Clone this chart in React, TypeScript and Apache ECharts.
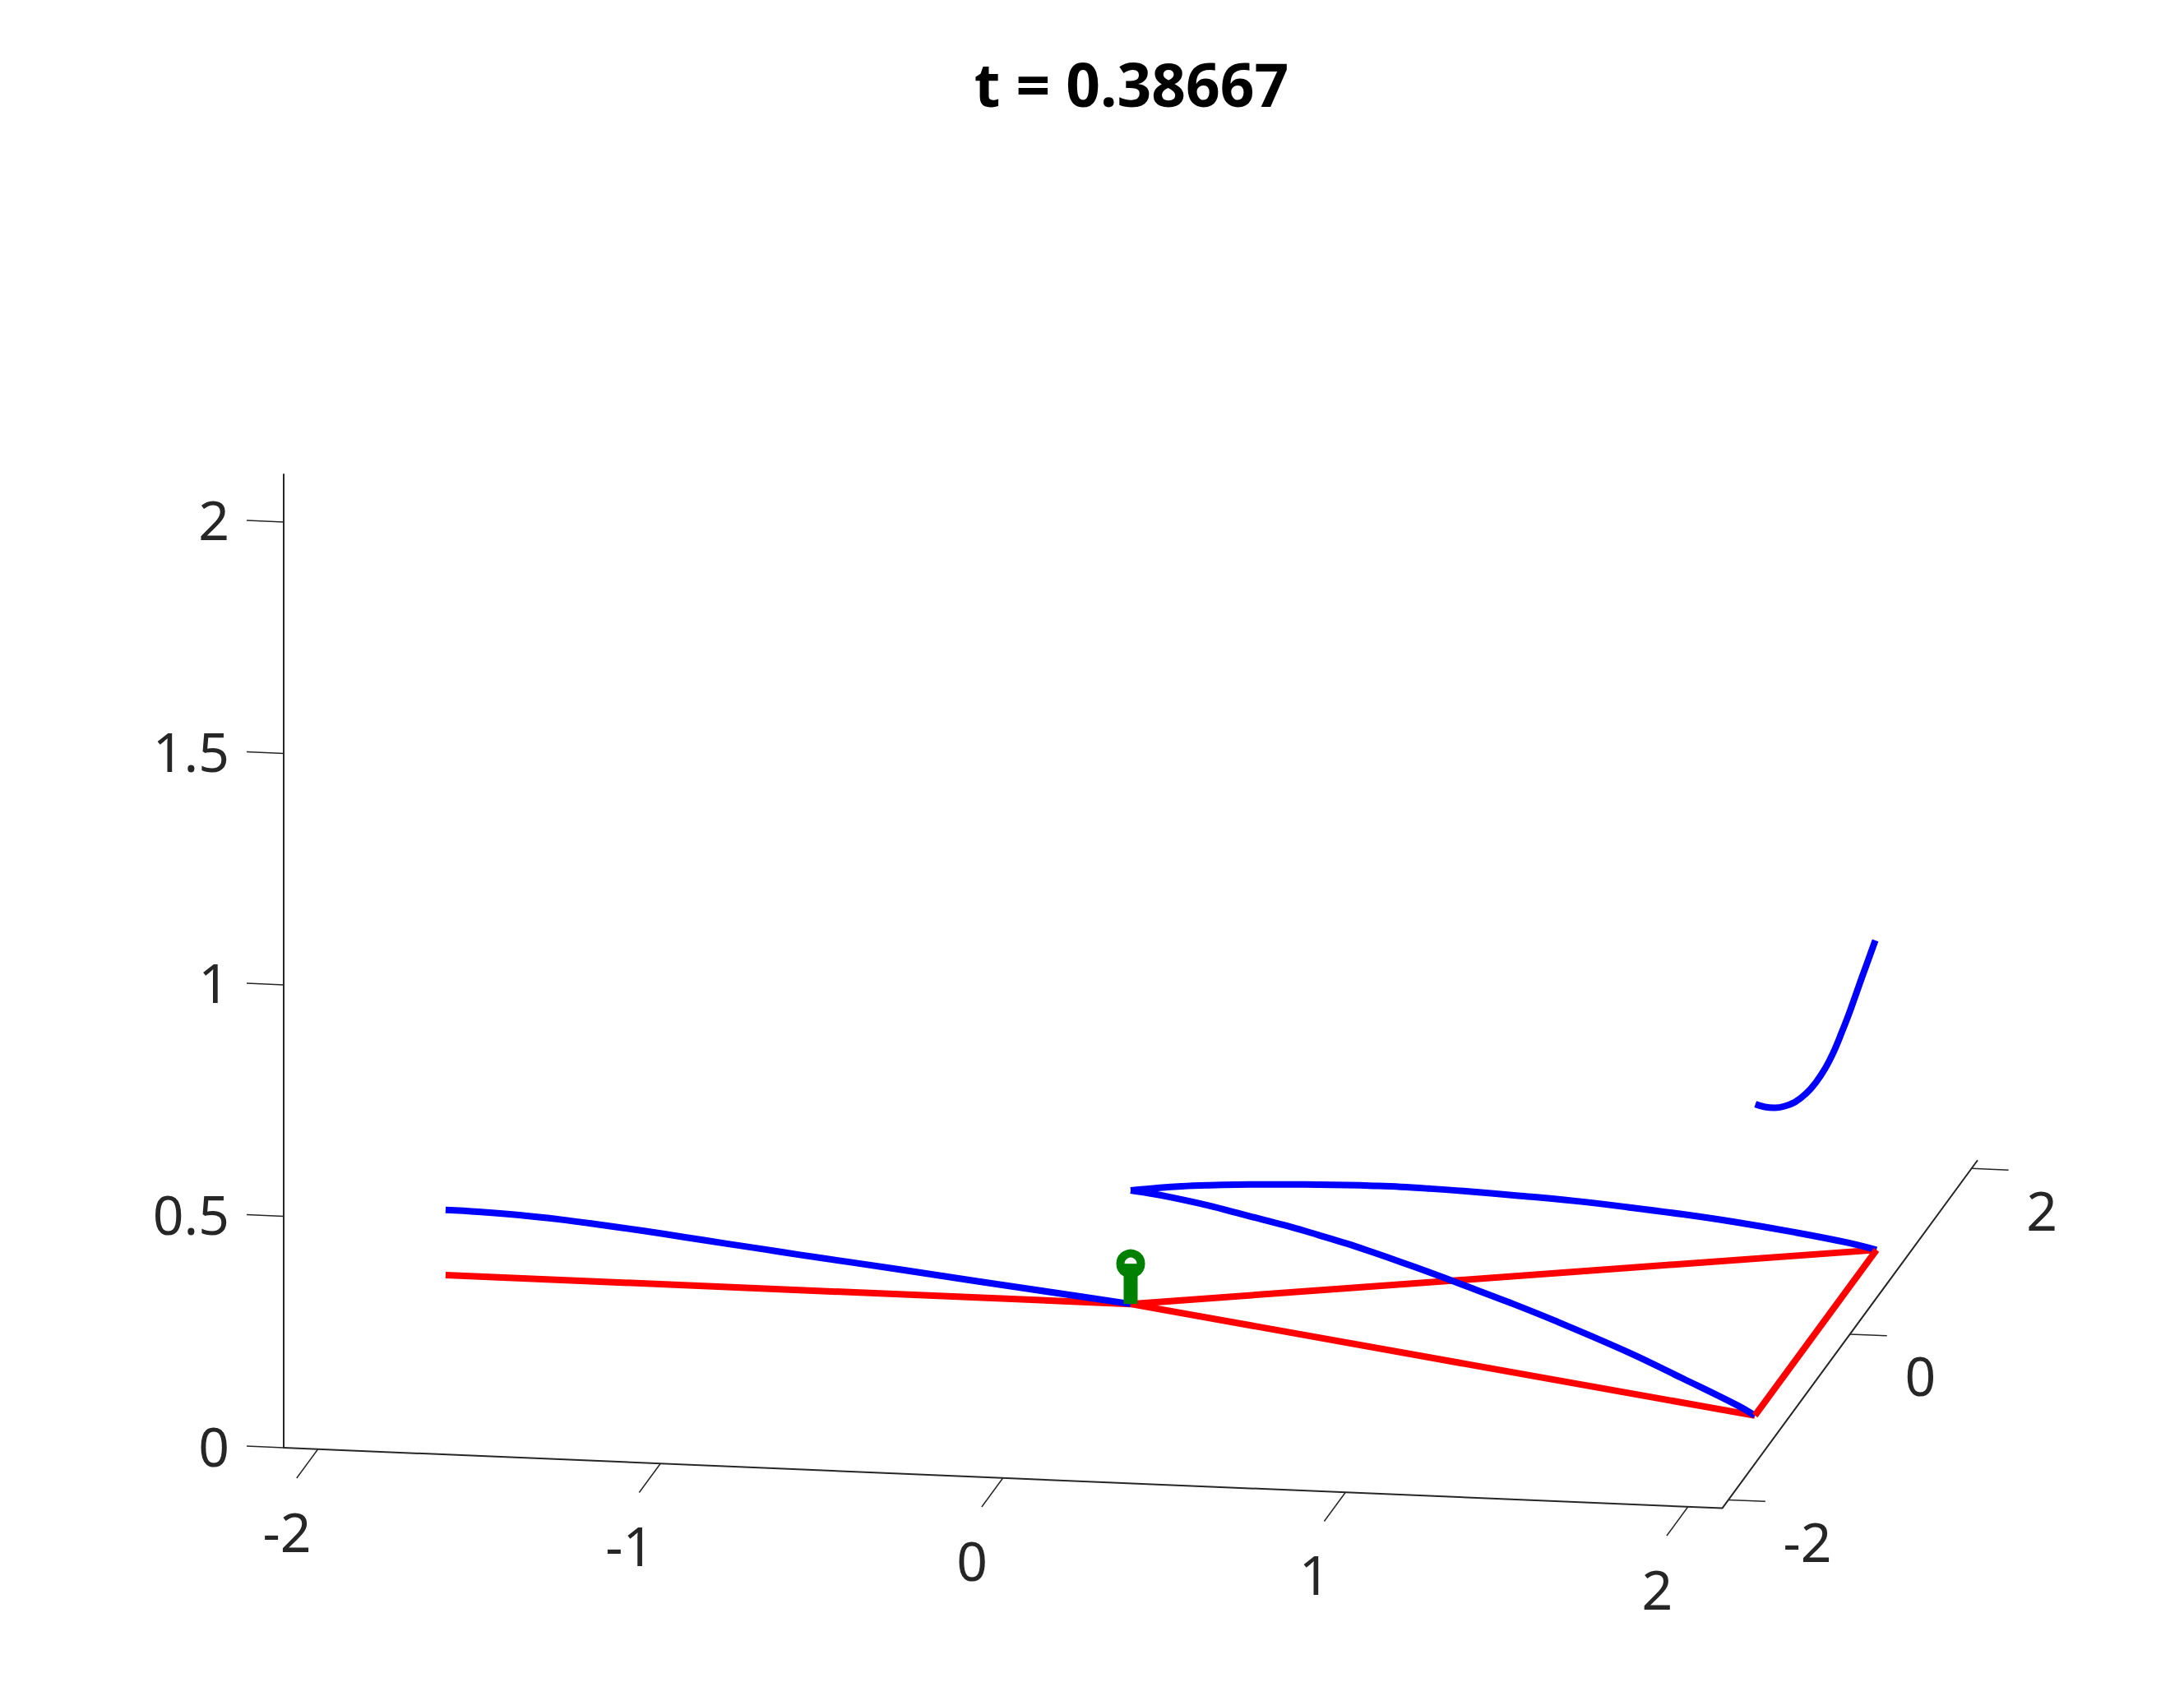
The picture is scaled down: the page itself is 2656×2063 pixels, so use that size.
import React, { useEffect, useRef } from "react";
import * as echarts from "echarts";

const titleText = "t = 0.38667";
const axisLimit = 2.1;
const xTicks = [-2, -1, 0, 1, 2];
const yTicks = [-2, 0, 2];
const zTicks = [0, 0.5, 1, 1.5, 2];

type P3 = [number, number, number];

const redEdges: P3[][] = [
  [[-2, 0, 0], [0, 0, 0]],
  [[0, 0, 0], [2, -1, 0]],
  [[0, 0, 0], [2, 1, 0]],
];
const redTip: P3[] = [[2, -1, 0], [2, 1, 0]];

const blueLeft: P3[] = [
  [-2, 0, 0.141], [-1.905, 0, 0.14], [-1.785, 0, 0.1366], [-1.665, 0, 0.1307], [-1.545, 0, 0.1227],
  [-1.425, 0, 0.114], [-1.305, 0, 0.1041], [-1.186, 0, 0.0942], [-1.066, 0, 0.0845], [-0.97, 0, 0.0765],
  [-0.665, 0, 0.0529], [-0.444, 0, 0.0349], [-0.2245, 0, 0.0176], [0, 0, 0],
];
const blueUpper: P3[] = [
  [0, 0, 0.2453], [0.078, 0.039, 0.2465], [0.137, 0.069, 0.2461], [0.211, 0.105, 0.2442], [0.284, 0.142, 0.2412],
  [0.357, 0.179, 0.2373], [0.431, 0.215, 0.233], [0.504, 0.252, 0.2285], [0.578, 0.289, 0.2233],
  [0.651, 0.326, 0.2172], [0.724, 0.362, 0.2107], [0.798, 0.399, 0.2028], [0.893, 0.447, 0.1917],
  [1.04, 0.52, 0.1732], [1.187, 0.594, 0.1535], [1.334, 0.667, 0.1311], [1.481, 0.74, 0.1073],
  [1.628, 0.814, 0.081], [1.774, 0.887, 0.0522], [1.921, 0.961, 0.0204], [2, 1, 0],
];
const blueLower: P3[] = [
  [0, 0, 0.2453], [0.076, -0.038, 0.2465], [0.164, -0.082, 0.2454], [0.252, -0.126, 0.2427], [0.339, -0.17, 0.2382],
  [0.427, -0.214, 0.2331], [0.515, -0.257, 0.2281], [0.602, -0.301, 0.2215], [0.69, -0.345, 0.2142],
  [0.778, -0.389, 0.205], [0.866, -0.433, 0.195], [0.953, -0.477, 0.1845], [1.067, -0.534, 0.1695],
  [1.217, -0.608, 0.149], [1.357, -0.678, 0.128], [1.594, -0.797, 0.088], [1.769, -0.885, 0.0525],
  [1.946, -0.973, 0.015], [2, -1, 0],
];
const blueEnd: P3[] = [
  [2, -0.992, 0.6714], [2, -0.834, 0.6371], [2, -0.677, 0.6073], [2, -0.519, 0.5821], [2, -0.339, 0.5593],
  [2, -0.158, 0.5452], [2, -0.001, 0.5403], [2, 0.157, 0.5432], [2, 0.292, 0.5535], [2, 0.427, 0.572],
  [2, 0.539, 0.5895], [2, 0.653, 0.611], [2, 0.765, 0.6325], [2, 0.877, 0.653], [2, 0.981, 0.6723],
];
const greenStem: P3[] = [[0, 0, 0], [0, 0, 0.087]];

// Oblique view of the 3D box.
const HY = 0.1775;
const VX = 0.0311;
const VY = 0.179;
const TICK = 0.108;
const project = ([x, y, z]: P3): [number, number] => [
  x + HY * y,
  z - VX * (x + axisLimit) + VY * (y + axisLimit),
];
const line3 = (pts: P3[], color: string, width: number, smooth: number | boolean = false) => ({
  type: "line",
  data: pts.map(project),
  symbol: "none",
  clip: false,
  silent: true,
  smooth,
  lineStyle: { color, width, cap: "butt", join: "round" },
});
const labels3 = (pts: { p: P3; t: string }[], align: string) => ({
  type: "scatter",
  clip: false,
  silent: true,
  symbolSize: 0,
  itemStyle: { opacity: 1 },
  data: pts.map((d) => ({
    value: project(d.p),
    label: {
      show: true,
      position: "inside",
      formatter: d.t,
      align,
      verticalAlign: "middle",
      color: "#262626",
      fontSize: 66,
      fontFamily: "Noto Sans",
    },
  })),
});

const AXIS = "#262626";
const L = axisLimit;

export default function App() {
  const ref = useRef<HTMLDivElement>(null);
  useEffect(() => {
    document.body.style.margin = "0";
    const chart = echarts.init(ref.current!, null, { renderer: "svg" });
    const hMax = L + HY * L + TICK;
    chart.setOption({
      animation: false,
      backgroundColor: "#fff",
      title: {
        text: titleText,
        left: 1371,
        top: 60,
        textAlign: "center",
        textStyle: { fontFamily: "Noto Sans", fontWeight: "bold", fontSize: 73, color: "#000" },
      },
      grid: { left: 300, top: 577, width: 2150, height: 1184 },
      xAxis: { type: "value", min: -hMax, max: hMax, show: false },
      yAxis: {
        type: "value",
        min: 0,
        max: 2.103,
        interval: 0.5,
        offset: -45,
        splitLine: { show: false },
        axisTick: { show: false },
        axisLine: { show: true, onZero: false, lineStyle: { color: AXIS, width: 2 } },
        axisLabel: {
          showMaxLabel: false,
          margin: 66,
          fontSize: 66,
          fontFamily: "Noto Sans",
          color: AXIS,
          verticalAlign: "bottom",
          lineHeight: 7,
        },
      },
      series: [
        line3([[-L, -L, 0], [L, -L, 0], [L, L, 0]], AXIS, 2),
        ...xTicks.map((x) => line3([[x, -L, 0], [x, -2.45, 0]], AXIS, 1.5)),
        ...yTicks.map((y) => line3([[L, y, 0], [L + TICK, y, 0]], AXIS, 1.5)),
        ...zTicks.map((z) => line3([[-L, -L, z], [-L - TICK, -L, z]], AXIS, 1.5)),
        labels3(xTicks.map((x) => ({ p: [x + 0.082, -3.07, 0] as P3, t: String(x) })), "center"),
        labels3(yTicks.map((y) => ({ p: [L + 0.24, y - 0.45, 0] as P3, t: String(y) })), "left"),
        ...redEdges.map((e) => line3(e, "#ff0000", 8)),
        line3(blueLeft, "#0000ff", 8, 0.4),
        line3(blueUpper, "#0000ff", 8, 0.4),
        line3(blueLower, "#0000ff", 8, 0.4),
        line3(blueEnd, "#0000ff", 8, 0.4),
        line3(redTip, "#ff0000", 8),
        {
          type: "scatter",
          clip: false,
          silent: true,
          symbol: "circle",
          symbolSize: 25,
          itemStyle: { color: "#fff", borderColor: "#008000", borderWidth: 10, opacity: 1 },
          data: [project(greenStem[1])],
        },
        line3(greenStem, "#008000", 17),
      ],
    });
    return () => chart.dispose();
  }, []);
  return <div ref={ref} style={{ width: 2656, height: 2063 }} />;
}
